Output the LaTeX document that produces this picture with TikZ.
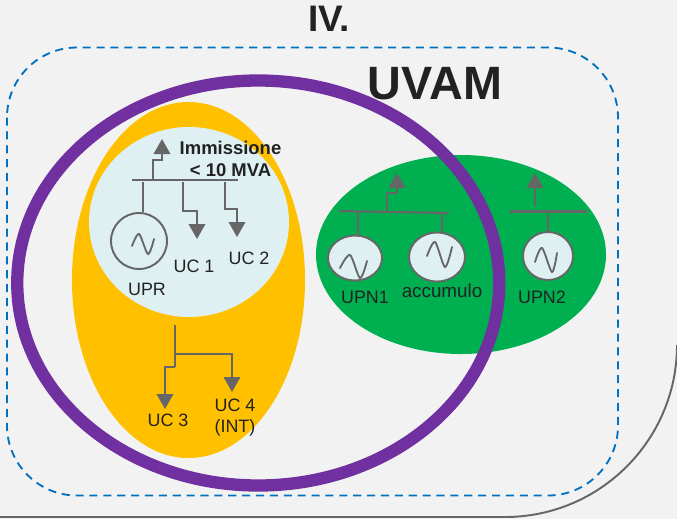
\documentclass[tikz,border=0pt]{standalone}
\usepackage{fontspec}
\setmainfont{Liberation Sans}
\usetikzlibrary{arrows.meta,shapes.geometric}
\definecolor{sfondo}{HTML}{F2F2F2}
\definecolor{bordo}{HTML}{666666}
\definecolor{tratteggio}{HTML}{0070C0}
\definecolor{viola}{HTML}{7030A0}
\definecolor{giallo}{HTML}{FFC000}
\definecolor{verde}{HTML}{00B050}
\definecolor{azzurro}{HTML}{DEF0F2}
\definecolor{testo}{HTML}{222222}
\tikzset{
  linea/.style={draw=bordo,line width=1.1pt},
  barra/.style={draw=bordo,line width=1.2pt},
  freccia/.style={linea,-{Triangle[length=0.3cm,width=0.33cm]}},
  gen/.style={ellipse,draw=bordo,line width=1.1pt,fill=azzurro,inner sep=0pt},
  onda/.style={draw=bordo,line width=1.05pt,line cap=round},
  etichetta/.style={text=testo,inner sep=0pt,font=\fontsize{10.2pt}{12pt}\selectfont},
  titolo/.style={text=testo,inner sep=0pt,font=\bfseries\fontsize{10.5pt}{12pt}\selectfont}
}
\begin{document}
\begin{tikzpicture}
  \useasboundingbox (0,0) rectangle (13.54,-10.38);
  \fill[sfondo] (0,0) rectangle (13.54,-10.38);
  \draw[bordo,line width=1.1pt] (13.54,-6.9) arc[start angle=0,end angle=-90,radius=3.44] -- (0,-10.34);
  \draw[tratteggio,line width=1.05pt,dash pattern=on 4.6pt off 3.3pt,rounded corners=1.4cm] (0.14,-0.95) rectangle (12.36,-9.91);

  \fill[giallo] (3.77,-5.6) ellipse [x radius=2.33,y radius=3.56];
  \fill[azzurro] (3.78,-4.44) ellipse [x radius=2,y radius=1.9];
  \fill[verde] (9.22,-5.09) ellipse [x radius=2.9,y radius=1.99];
  \draw[viola,line width=7pt] (5.165,-5.66) ellipse [x radius=4.82,y radius=4.05];

  \node[text=testo,inner sep=0pt,font=\bfseries\fontsize{21pt}{23pt}\selectfont] (iv) at (6.58,-0.38) {IV.};
  \node[text=testo,inner sep=0pt,font=\bfseries\fontsize{26.6pt}{29pt}\selectfont] (uvam) at (8.7,-1.68) {UVAM};

  % zona UPR
  \coordinate (barraA) at (2.64,-3.6);
  \coordinate (barraB) at (4.76,-3.6);
  \coordinate (usc) at (3.06,-3.6);
  \coordinate (uscg) at (3.24,-3.2);
  \coordinate (uscf) at (3.24,-2.78);
  \coordinate (stemR) at (2.86,-3.64);
  \coordinate (ucaT) at (3.66,-3.64);
  \coordinate (ucaG) at (3.94,-4.22);
  \coordinate (ucaF) at (3.94,-4.78);
  \coordinate (ucbT) at (4.5,-3.64);
  \coordinate (ucbG) at (4.74,-4.18);
  \coordinate (ucbF) at (4.74,-4.74);
  \node[gen,minimum width=1.12cm,minimum height=1.12cm] (upr) at (2.78,-4.82) {};
  \draw[barra] (barraA) -- (barraB);
  \draw[freccia] (usc) |- (uscg) -- (uscf);
  \draw[linea] (stemR) -- (stemR |- upr.north);
  \draw[freccia] (ucaT) |- (ucaG) -- (ucaF);
  \draw[freccia] (ucbT) |- (ucbG) -- (ucbF);
  \draw[onda] plot[smooth] coordinates {(2.64,-4.92) (2.78,-4.68) (2.96,-5.08) (3.08,-4.78)};
  \node[etichetta] (lupr) at (2.94,-5.78) {UPR};
  \node[etichetta] (luca) at (3.88,-5.32) {UC 1};
  \node[etichetta] (lucb) at (4.98,-5.16) {UC 2};
  \node[titolo] (imm) at (4.61,-2.96) {Immissione};
  \node[titolo] (mva) at (4.61,-3.4) {< 10 MVA};

  % zona UC 3 e UC 4
  \coordinate (caloT) at (3.5,-6.5);
  \coordinate (caloM) at (3.5,-7.08);
  \coordinate (caloB) at (3.5,-7.34);
  \coordinate (ucdF) at (4.64,-7.84);
  \coordinate (uccG) at (3.3,-7.34);
  \coordinate (uccF) at (3.3,-8.18);
  \draw[linea] (caloT) -- (caloB);
  \draw[freccia] (caloM) -| (ucdF);
  \draw[freccia] (caloB) -- (uccG) -- (uccF);
  \node[etichetta] (lucc) at (3.36,-8.4) {UC 3};
  \node[etichetta] (lucd) at (4.7,-8.1) {UC 4};
  \node[etichetta] (lint) at (4.7,-8.56) {(INT)};

  % zona verde
  \coordinate (bvA) at (6.78,-4.22);
  \coordinate (bvB) at (8.98,-4.26);
  \coordinate (bvU) at (7.74,-4.25);
  \coordinate (bvG) at (7.94,-3.86);
  \coordinate (bvF) at (7.94,-3.46);
  \coordinate (stemN) at (7.16,-4.24);
  \coordinate (stemC) at (8.84,-4.26);
  \coordinate (bwA) at (10.2,-4.23);
  \coordinate (bwB) at (11.74,-4.23);
  \coordinate (bwU) at (10.7,-4.12);
  \coordinate (bwF) at (10.7,-3.46);
  \coordinate (stemP) at (10.96,-4.28);
  \node[gen,minimum width=1.08cm,minimum height=0.9cm] (upna) at (7.1,-5.16) {};
  \node[gen,minimum width=1.12cm,minimum height=0.98cm] (acc) at (8.74,-5.14) {};
  \node[gen,minimum width=1cm,minimum height=0.96cm] (upnb) at (10.96,-5.12) {};
  \draw[barra] (bvA) -- (bvB);
  \draw[barra] (bwA) -- (bwB);
  \draw[freccia] (bvU) |- (bvG) -- (bvF);
  \draw[freccia] (bwU) -- (bwF);
  \draw[linea] (stemN) -- (stemN |- upna.north);
  \draw[linea] (stemC) -- (stemC |- acc.north);
  \draw[linea] (stemP) -- (stemP |- upnb.north);
  \draw[onda] plot[smooth] coordinates {(6.8,-5.36) (7.0,-5.1) (7.2,-5.56) (7.34,-5.22)};
  \draw[onda] plot[smooth] coordinates {(8.54,-5.12) (8.7,-4.84) (8.9,-5.34) (9.04,-4.94)};
  \draw[onda] plot[smooth] coordinates {(10.7,-5.24) (10.84,-4.96) (11.04,-5.44) (11.14,-5.06)};
  \node[etichetta] (lupna) at (7.3,-5.94) {UPN1};
  \node[etichetta,font=\fontsize{10.7pt}{12pt}\selectfont] (lacc) at (8.84,-5.82) {accumulo};
  \node[etichetta] (lupnb) at (10.84,-5.94) {UPN2};
\end{tikzpicture}
\end{document}
